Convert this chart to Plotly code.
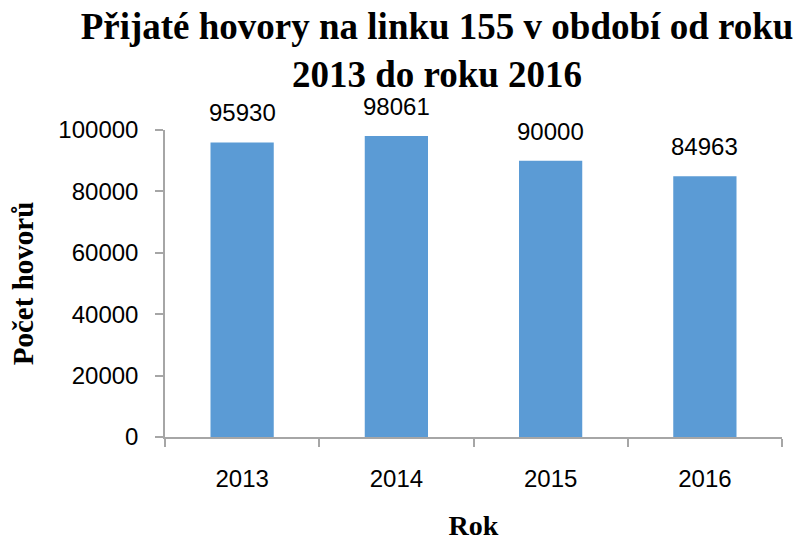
import plotly.graph_objects as go

years = ["2013", "2014", "2015", "2016"]
calls = [95930, 98061, 90000, 84963]
y_ticks = [0, 20000, 40000, 60000, 80000, 100000]

AXIS = "#a6a6a6"
LABEL_FONT = dict(family="Liberation Sans, Arial, sans-serif", size=24, color="#000000")
SERIF_B = "Liberation Serif, Times New Roman, serif"

fig = go.Figure()
fig.add_trace(go.Bar(
    x=years, y=calls,
    marker=dict(color="#5b9bd5", line=dict(width=0)),
    width=0.41,
    hoverinfo="x+y",
))

for i, v in enumerate(calls):
    fig.add_annotation(x=i, y=v, text=str(v), showarrow=False,
                       yanchor="bottom", yshift=14, font=LABEL_FONT)

fig.update_layout(
    width=801, height=541,
    margin=dict(l=165, r=19, t=130, b=104, autoexpand=False),
    paper_bgcolor="white", plot_bgcolor="white",
    showlegend=False,
    title=dict(
        text="<b>Přijaté hovory na linku 155 v období od roku<br>2013 do roku 2016</b>",
        font=dict(family=SERIF_B, size=37, color="#000000"),
        x=437/801, xanchor="center", xref="container",
        y=1 - 39/541, yanchor="middle", yref="container",
    ),
    xaxis=dict(
        type="category", range=[-0.5, 3.5], tickangle=0,
        showline=True, linecolor=AXIS, linewidth=1.5,
        ticks="outside", tickson="boundaries", ticklen=8, tickcolor=AXIS, tickwidth=1.5,
        tickfont=LABEL_FONT, ticklabelstandoff=19,
        showgrid=False, zeroline=False,
        title=dict(text="<b>Rok</b>", font=dict(family=SERIF_B, size=28, color="#000000"),
                   standoff=36),
    ),
    yaxis=dict(
        range=[0, 100000],
        tickvals=y_ticks, ticktext=[str(t) for t in y_ticks],
        showline=True, linecolor=AXIS, linewidth=1.5,
        ticks="outside", ticklen=8, tickcolor=AXIS, tickwidth=1.5,
        tickfont=LABEL_FONT, ticklabelstandoff=12,
        showgrid=False, zeroline=False,
        title=dict(text="<b>Počet hovorů</b>", font=dict(family=SERIF_B, size=29, color="#000000"),
                   standoff=16),
    ),
)

fig.write_html("out.html")
